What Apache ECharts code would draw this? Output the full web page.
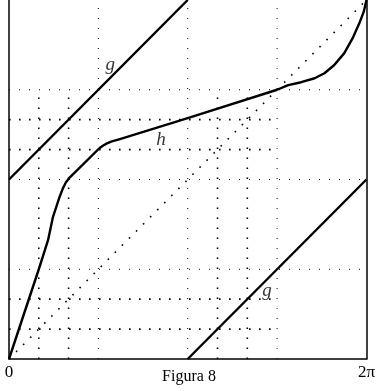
<!DOCTYPE html>
<html>
<head>
<meta charset="utf-8">
<script src="https://cdn.jsdelivr.net/npm/echarts@6/dist/echarts.min.js"></script>
<style>
  html, body { margin: 0; padding: 0; background: #fff; }
  #chart { width: 378px; height: 391px; }
</style>
</head>
<body>
<div id="chart"></div>
<script>
// all values in units of pi (axis runs 0 .. 2pi)
const gX = [0, 1.5, 2]
const gY = [1, 2.5, 3] // g(x) = x + pi, taken mod 2pi

const hX = [0, 0.1667, 0.2184, 0.2462, 0.2834, 0.302, 0.318, 0.335, 0.5056, 0.525, 0.542, 0.575, 0.616,
  1.0, 1.5, 1.562, 1.635, 1.71, 1.765, 1.82, 1.876, 1.922, 1.96, 1.985, 2.0]
const hY = [0, 0.5, 0.662, 0.792, 0.904, 0.952, 0.983, 1.006, 1.174, 1.188, 1.198, 1.212, 1.224,
  1.342, 1.5, 1.526, 1.542, 1.564, 1.592, 1.638, 1.704, 1.786, 1.87, 1.935, 2.0]

// dotted guide lines
const fullLevels = [0.5, 1, 1.5]          // run across the whole square
const partLevels = [1 / 6, 1 / 3, 7 / 6, 4 / 3] // run from 0 to 1.5
const partEnd = 1.5

const labels = [
  { name: 'g', x: 0.567, y: 1.638 },
  { name: 'h', x: 0.85, y: 1.22 },
  { name: 'g', x: 1.444, y: 0.379 }
]

const P = Math.PI
const xAxisTicks = ['0', '2π']

const chart = echarts.init(document.getElementById('chart'))

/* g 分成两段画 (mod 2pi) */
const gUpper = [], gLower = []
gX.forEach((x, i) => {
  if (x <= 1) gUpper.push([x * P, gY[i] * P])
  if (x >= 1) gLower.push([x * P, (gY[i] - 2) * P])
})
gUpper.push([1 * P, 2 * P])
gLower.unshift([1 * P, 0])

const guide = (pts, fine) => ({
  type: 'line',
  data: pts,
  symbol: 'none',
  silent: true,
  animation: false,
  z: 1,
  lineStyle: { color: '#000', width: fine ? 1 : 1.6, type: fine ? [1, 9] : [1.6, 8.4] }
})

const guides = []
fullLevels.forEach(v => {
  guides.push(guide([[0, v * P], [2 * P, v * P]], true))
  if (v !== 1) guides.push(guide([[v * P, 0], [v * P, 2 * P]], true))
})
guides.push(guide([[P, 0], [P, 2 * P]], true))
partLevels.forEach(v => {
  guides.push(guide([[0, v * P], [partEnd * P, v * P]], false))
  guides.push(guide([[v * P, 0], [v * P, partEnd * P]], false))
})
// diagonal y = x
guides.push(guide([[0, 0], [2 * P, 2 * P]], false))

const curve = pts => ({
  type: 'line',
  data: pts,
  symbol: 'none',
  smooth: false,
  animation: false,
  z: 3,
  lineStyle: { color: '#000', width: 2.4, join: 'round' }
})

const option = {
  animation: false,
  grid: { left: 9, right: 9, top: 0, bottom: 32 },
  xAxis: {
    type: 'value',
    min: 0,
    max: 2 * P,
    interval: 2 * P,
    splitLine: { show: false },
    axisTick: { show: false },
    axisLine: { show: true, lineStyle: { color: '#000', width: 1.5 } },
    axisLabel: {
      margin: 5,
      color: '#000',
      fontFamily: 'Liberation Serif',
      fontSize: 17,
      formatter: v => (v === 0 ? xAxisTicks[0] : xAxisTicks[1])
    }
  },
  yAxis: [
    {
      type: 'value',
      min: 0,
      max: 2 * P,
      splitLine: { show: false },
      axisTick: { show: false },
      axisLabel: { show: false },
      axisLine: { show: true, lineStyle: { color: '#000', width: 1.5 } }
    },
    {
      type: 'value',
      position: 'right',
      min: 0,
      max: 2 * P,
      splitLine: { show: false },
      axisTick: { show: false },
      axisLabel: { show: false },
      axisLine: { show: true, lineStyle: { color: '#000', width: 1.5 } }
    }
  ],
  series: [
    ...guides,
    curve(gUpper),
    curve(gLower),
    curve(hX.map((x, i) => [x * P, hY[i] * P])),
    {
      type: 'scatter',
      symbolSize: 0,
      silent: true,
      z: 4,
      data: labels.map(l => ({ value: [l.x * P, l.y * P], name: l.name })),
      label: {
        show: true,
        position: 'inside',
        formatter: p => p.name,
        color: '#000',
        fontFamily: 'Liberation Serif',
        fontStyle: 'italic',
        fontSize: 19
      }
    }
  ],
  graphic: [
    {
      type: 'text',
      left: 'center',
      top: 369,
      style: {
        text: 'Figura 8',
        fill: '#000',
        font: '16px "Liberation Serif"'
      }
    }
  ]
}

chart.setOption(option)
</script>
</body>
</html>
